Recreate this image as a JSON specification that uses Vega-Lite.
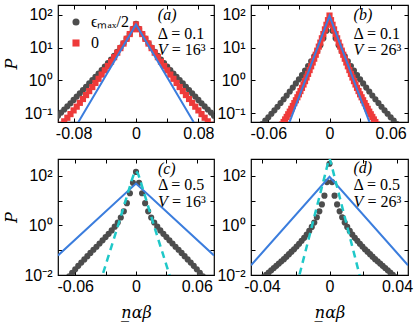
{
"$schema": "https://vega.github.io/schema/vega-lite/v6.json",
"padding": {"left": 3, "top": 3, "right": 2, "bottom": 2},
"columns": 2,
"spacing": {"row": 37, "column": 37},
"bounds": "flush",
"resolve": {"scale": {"color": "independent", "shape": "independent"}},
"config": {
 "view": {"stroke": "black", "strokeWidth": 1.2},
 "font": "Liberation Serif",
 "axis": {"grid": false, "domain": false, "tickColor": "black", "tickSize": -4, "tickWidth": 1, "labelFont": "Liberation Sans", "labelFontSize": 16, "labelColor": "black", "titleFont": "DejaVu Serif", "titleFontSize": 16, "titleFontStyle": "italic", "titleFontWeight": "normal", "titleColor": "black", "labelOverlap": false, "labelFlush": false},
 "axisX": {"labelPadding": 7},
 "axisY": {"labelPadding": 10}
},
"datasets": {
 "a_pts": [
  {"x":-0.1,"p":0.0851,"s":"g"},{"x":-0.096,"p":0.106,"s":"g"},{"x":-0.092,"p":0.132,"s":"g"},{"x":-0.088,"p":0.164,"s":"g"},{"x":-0.084,"p":0.204,"s":"g"},{"x":-0.08,"p":0.257,"s":"g"},{"x":-0.076,"p":0.324,"s":"g"},{"x":-0.072,"p":0.407,"s":"g"},{"x":-0.068,"p":0.513,"s":"g"},{"x":-0.064,"p":0.646,"s":"g"},{"x":-0.06,"p":0.813,"s":"g"},{"x":-0.056,"p":1.023,"s":"g"},{"x":-0.052,"p":1.29,"s":"g"},{"x":-0.048,"p":1.62,"s":"g"},{"x":-0.044,"p":2.07,"s":"g"},{"x":-0.04,"p":2.63,"s":"g"},{"x":-0.036,"p":3.35,"s":"g"},{"x":-0.032,"p":4.32,"s":"g"},{"x":-0.028,"p":5.62,"s":"g"},{"x":-0.024,"p":7.41,"s":"g"},{"x":-0.02,"p":9.89,"s":"g"},{"x":-0.016,"p":13.5,"s":"g"},{"x":-0.012,"p":18.6,"s":"g"},{"x":-0.008,"p":26.0,"s":"g"},{"x":-0.004,"p":36.7,"s":"g"},{"x":0,"p":52.5,"s":"g"},
  {"x":0.004,"p":36.7,"s":"g"},{"x":0.008,"p":26.0,"s":"g"},{"x":0.012,"p":18.6,"s":"g"},{"x":0.016,"p":13.5,"s":"g"},{"x":0.02,"p":9.89,"s":"g"},{"x":0.024,"p":7.41,"s":"g"},{"x":0.028,"p":5.62,"s":"g"},{"x":0.032,"p":4.32,"s":"g"},{"x":0.036,"p":3.35,"s":"g"},{"x":0.04,"p":2.63,"s":"g"},{"x":0.044,"p":2.07,"s":"g"},{"x":0.048,"p":1.62,"s":"g"},{"x":0.052,"p":1.29,"s":"g"},{"x":0.056,"p":1.023,"s":"g"},{"x":0.06,"p":0.813,"s":"g"},{"x":0.064,"p":0.646,"s":"g"},{"x":0.068,"p":0.513,"s":"g"},{"x":0.072,"p":0.407,"s":"g"},{"x":0.076,"p":0.324,"s":"g"},{"x":0.08,"p":0.257,"s":"g"},{"x":0.084,"p":0.204,"s":"g"},{"x":0.088,"p":0.164,"s":"g"},{"x":0.092,"p":0.132,"s":"g"},{"x":0.096,"p":0.106,"s":"g"},{"x":0.1,"p":0.0851,"s":"g"},
  {"x":-0.096,"p":0.0452,"s":"r"},{"x":-0.092,"p":0.0577,"s":"r"},{"x":-0.088,"p":0.0741,"s":"r"},{"x":-0.084,"p":0.0955,"s":"r"},{"x":-0.08,"p":0.1236,"s":"r"},{"x":-0.076,"p":0.1606,"s":"r"},{"x":-0.072,"p":0.2095,"s":"r"},{"x":-0.068,"p":0.274,"s":"r"},{"x":-0.064,"p":0.361,"s":"r"},{"x":-0.06,"p":0.476,"s":"r"},{"x":-0.056,"p":0.632,"s":"r"},{"x":-0.052,"p":0.841,"s":"r"},{"x":-0.048,"p":1.124,"s":"r"},{"x":-0.044,"p":1.51,"s":"r"},{"x":-0.04,"p":2.03,"s":"r"},{"x":-0.036,"p":2.75,"s":"r"},{"x":-0.032,"p":3.73,"s":"r"},{"x":-0.028,"p":5.09,"s":"r"},{"x":-0.024,"p":6.98,"s":"r"},{"x":-0.02,"p":9.59,"s":"r"},{"x":-0.016,"p":13.2,"s":"r"},{"x":-0.012,"p":18.4,"s":"r"},{"x":-0.008,"p":25.6,"s":"r"},{"x":-0.004,"p":35.7,"s":"r"},{"x":0,"p":50.1,"s":"r"},
  {"x":0.004,"p":35.7,"s":"r"},{"x":0.008,"p":25.6,"s":"r"},{"x":0.012,"p":18.4,"s":"r"},{"x":0.016,"p":13.2,"s":"r"},{"x":0.02,"p":9.59,"s":"r"},{"x":0.024,"p":6.98,"s":"r"},{"x":0.028,"p":5.09,"s":"r"},{"x":0.032,"p":3.73,"s":"r"},{"x":0.036,"p":2.75,"s":"r"},{"x":0.04,"p":2.03,"s":"r"},{"x":0.044,"p":1.51,"s":"r"},{"x":0.048,"p":1.124,"s":"r"},{"x":0.052,"p":0.841,"s":"r"},{"x":0.056,"p":0.632,"s":"r"},{"x":0.06,"p":0.476,"s":"r"},{"x":0.064,"p":0.361,"s":"r"},{"x":0.068,"p":0.274,"s":"r"},{"x":0.072,"p":0.2095,"s":"r"},{"x":0.076,"p":0.1606,"s":"r"},{"x":0.08,"p":0.1236,"s":"r"},{"x":0.084,"p":0.0955,"s":"r"},{"x":0.088,"p":0.0741,"s":"r"},{"x":0.092,"p":0.0577,"s":"r"},{"x":0.096,"p":0.0452,"s":"r"}
 ],
 "a_blue": [{"x":-0.1,"p":0.0049},{"x":0,"p":50.1},{"x":0.1,"p":0.0049}],
 "b_pts": [
  {"x":-0.066,"p":0.0479,"s":"g"},{"x":-0.063,"p":0.0603,"s":"g"},{"x":-0.06,"p":0.0767,"s":"g"},{"x":-0.057,"p":0.0977,"s":"g"},{"x":-0.054,"p":0.124,"s":"g"},{"x":-0.051,"p":0.16,"s":"g"},{"x":-0.048,"p":0.207,"s":"g"},{"x":-0.045,"p":0.269,"s":"g"},{"x":-0.042,"p":0.351,"s":"g"},{"x":-0.039,"p":0.462,"s":"g"},{"x":-0.036,"p":0.61,"s":"g"},{"x":-0.033,"p":0.813,"s":"g"},{"x":-0.03,"p":1.084,"s":"g"},{"x":-0.027,"p":1.46,"s":"g"},{"x":-0.024,"p":2.0,"s":"g"},{"x":-0.021,"p":2.75,"s":"g"},{"x":-0.018,"p":3.8,"s":"g"},{"x":-0.015,"p":5.37,"s":"g"},{"x":-0.012,"p":7.76,"s":"g"},{"x":-0.009,"p":11.7,"s":"g"},{"x":-0.006,"p":19.1,"s":"g"},{"x":-0.003,"p":32.4,"s":"g"},{"x":0,"p":57.5,"s":"g"},
  {"x":0.003,"p":32.4,"s":"g"},{"x":0.006,"p":19.1,"s":"g"},{"x":0.009,"p":11.7,"s":"g"},{"x":0.012,"p":7.76,"s":"g"},{"x":0.015,"p":5.37,"s":"g"},{"x":0.018,"p":3.8,"s":"g"},{"x":0.021,"p":2.75,"s":"g"},{"x":0.024,"p":2.0,"s":"g"},{"x":0.027,"p":1.46,"s":"g"},{"x":0.03,"p":1.084,"s":"g"},{"x":0.033,"p":0.813,"s":"g"},{"x":0.036,"p":0.61,"s":"g"},{"x":0.039,"p":0.462,"s":"g"},{"x":0.042,"p":0.351,"s":"g"},{"x":0.045,"p":0.269,"s":"g"},{"x":0.048,"p":0.207,"s":"g"},{"x":0.051,"p":0.16,"s":"g"},{"x":0.054,"p":0.124,"s":"g"},{"x":0.057,"p":0.0977,"s":"g"},{"x":0.06,"p":0.0767,"s":"g"},{"x":0.063,"p":0.0603,"s":"g"},{"x":0.066,"p":0.0479,"s":"g"},
  {"x":-0.0465,"p":0.0462,"s":"r"},{"x":-0.045,"p":0.055,"s":"r"},{"x":-0.0435,"p":0.0658,"s":"r"},{"x":-0.042,"p":0.0785,"s":"r"},{"x":-0.0405,"p":0.0944,"s":"r"},{"x":-0.039,"p":0.1135,"s":"r"},{"x":-0.0375,"p":0.138,"s":"r"},{"x":-0.036,"p":0.168,"s":"r"},{"x":-0.0345,"p":0.2056,"s":"r"},{"x":-0.033,"p":0.251,"s":"r"},{"x":-0.0315,"p":0.309,"s":"r"},{"x":-0.03,"p":0.38,"s":"r"},{"x":-0.0285,"p":0.476,"s":"r"},{"x":-0.027,"p":0.596,"s":"r"},{"x":-0.0255,"p":0.755,"s":"r"},{"x":-0.024,"p":0.955,"s":"r"},{"x":-0.0225,"p":1.23,"s":"r"},{"x":-0.021,"p":1.585,"s":"r"},{"x":-0.0195,"p":2.065,"s":"r"},{"x":-0.018,"p":2.69,"s":"r"},{"x":-0.0165,"p":3.51,"s":"r"},{"x":-0.015,"p":4.57,"s":"r"},{"x":-0.0135,"p":6.05,"s":"r"},{"x":-0.012,"p":8.04,"s":"r"},{"x":-0.0105,"p":10.64,"s":"r"},{"x":-0.009,"p":14.1,"s":"r"},{"x":-0.0075,"p":19.05,"s":"r"},{"x":-0.006,"p":25.7,"s":"r"},{"x":-0.0045,"p":35.5,"s":"r"},{"x":-0.003,"p":49.0,"s":"r"},{"x":-0.0015,"p":67.6,"s":"r"},{"x":0,"p":93.3,"s":"r"},
  {"x":0.0015,"p":67.6,"s":"r"},{"x":0.003,"p":49.0,"s":"r"},{"x":0.0045,"p":35.5,"s":"r"},{"x":0.006,"p":25.7,"s":"r"},{"x":0.0075,"p":19.05,"s":"r"},{"x":0.009,"p":14.1,"s":"r"},{"x":0.0105,"p":10.64,"s":"r"},{"x":0.012,"p":8.04,"s":"r"},{"x":0.0135,"p":6.05,"s":"r"},{"x":0.015,"p":4.57,"s":"r"},{"x":0.0165,"p":3.51,"s":"r"},{"x":0.018,"p":2.69,"s":"r"},{"x":0.0195,"p":2.065,"s":"r"},{"x":0.021,"p":1.585,"s":"r"},{"x":0.0225,"p":1.23,"s":"r"},{"x":0.024,"p":0.955,"s":"r"},{"x":0.0255,"p":0.755,"s":"r"},{"x":0.027,"p":0.596,"s":"r"},{"x":0.0285,"p":0.476,"s":"r"},{"x":0.03,"p":0.38,"s":"r"},{"x":0.0315,"p":0.309,"s":"r"},{"x":0.033,"p":0.251,"s":"r"},{"x":0.0345,"p":0.2056,"s":"r"},{"x":0.036,"p":0.168,"s":"r"},{"x":0.0375,"p":0.138,"s":"r"},{"x":0.039,"p":0.1135,"s":"r"},{"x":0.0405,"p":0.0944,"s":"r"},{"x":0.042,"p":0.0785,"s":"r"},{"x":0.0435,"p":0.0658,"s":"r"},{"x":0.045,"p":0.055,"s":"r"},{"x":0.0465,"p":0.0462,"s":"r"}
 ],
 "b_blue": [{"x":-0.077,"p":0.000042},{"x":0,"p":91.2},{"x":0.077,"p":0.000042}],
 "c_pts": [
  {"x":-0.066,"p":0.0089},{"x":-0.063,"p":0.0123},{"x":-0.06,"p":0.017},{"x":-0.057,"p":0.0234},{"x":-0.054,"p":0.0316},{"x":-0.051,"p":0.0427},{"x":-0.048,"p":0.0575},{"x":-0.045,"p":0.0776},{"x":-0.042,"p":0.1047},{"x":-0.039,"p":0.138},{"x":-0.036,"p":0.186},{"x":-0.033,"p":0.251},{"x":-0.03,"p":0.339},{"x":-0.027,"p":0.457},{"x":-0.024,"p":0.631},{"x":-0.021,"p":0.891},{"x":-0.018,"p":1.318},{"x":-0.015,"p":2.09},{"x":-0.012,"p":3.72},{"x":-0.009,"p":7.94},{"x":-0.006,"p":19.95},{"x":-0.003,"p":52.5},{"x":0,"p":144.5},
  {"x":0.003,"p":52.5},{"x":0.006,"p":19.95},{"x":0.009,"p":7.94},{"x":0.012,"p":3.72},{"x":0.015,"p":2.09},{"x":0.018,"p":1.318},{"x":0.021,"p":0.891},{"x":0.024,"p":0.631},{"x":0.027,"p":0.457},{"x":0.03,"p":0.339},{"x":0.033,"p":0.251},{"x":0.036,"p":0.186},{"x":0.039,"p":0.138},{"x":0.042,"p":0.1047},{"x":0.045,"p":0.0776},{"x":0.048,"p":0.0575},{"x":0.051,"p":0.0427},{"x":0.054,"p":0.0316},{"x":0.057,"p":0.0234},{"x":0.06,"p":0.017},{"x":0.063,"p":0.0123},{"x":0.066,"p":0.0089}
 ],
 "c_blue": [{"x":-0.077,"p":0.0617},{"x":0,"p":49},{"x":0.077,"p":0.0617}],
 "c_gauss": [
  {"x":-0.036,"p":0.00417},{"x":-0.034,"p":0.00759},{"x":-0.032,"p":0.0138},{"x":-0.03,"p":0.0251},{"x":-0.028,"p":0.0457},{"x":-0.026,"p":0.0832},{"x":-0.024,"p":0.151},{"x":-0.022,"p":0.275},{"x":-0.02,"p":0.501},{"x":-0.018,"p":0.912},{"x":-0.016,"p":1.7},{"x":-0.014,"p":3.16},{"x":-0.012,"p":5.89},{"x":-0.01,"p":10.96},{"x":-0.008,"p":20.4},{"x":-0.006,"p":38.0},{"x":-0.004,"p":70.8},{"x":-0.002,"p":120.2},{"x":0,"p":158.5},
  {"x":0.002,"p":120.2},{"x":0.004,"p":70.8},{"x":0.006,"p":38.0},{"x":0.008,"p":20.4},{"x":0.01,"p":10.96},{"x":0.012,"p":5.89},{"x":0.014,"p":3.16},{"x":0.016,"p":1.7},{"x":0.018,"p":0.912},{"x":0.02,"p":0.501},{"x":0.022,"p":0.275},{"x":0.024,"p":0.151},{"x":0.026,"p":0.0832},{"x":0.028,"p":0.0457},{"x":0.03,"p":0.0251},{"x":0.032,"p":0.0138},{"x":0.034,"p":0.00759},{"x":0.036,"p":0.00417}
 ],
 "d_pts": [
  {"x":-0.039,"p":0.0083},{"x":-0.0375,"p":0.0102},{"x":-0.036,"p":0.0126},{"x":-0.0345,"p":0.0155},{"x":-0.033,"p":0.0191},{"x":-0.0315,"p":0.0234},{"x":-0.03,"p":0.0288},{"x":-0.0285,"p":0.0355},{"x":-0.027,"p":0.0437},{"x":-0.0255,"p":0.055},{"x":-0.024,"p":0.0692},{"x":-0.0225,"p":0.0871},{"x":-0.021,"p":0.1096},{"x":-0.0195,"p":0.141},{"x":-0.018,"p":0.182},{"x":-0.0165,"p":0.24},{"x":-0.015,"p":0.316},{"x":-0.0135,"p":0.427},{"x":-0.012,"p":0.603},{"x":-0.0105,"p":0.871},{"x":-0.009,"p":1.318},{"x":-0.0075,"p":2.14},{"x":-0.006,"p":3.72},{"x":-0.0045,"p":7.08},{"x":-0.003,"p":15.85},{"x":-0.0015,"p":56.2},{"x":0,"p":309},
  {"x":0.0015,"p":56.2},{"x":0.003,"p":15.85},{"x":0.0045,"p":7.08},{"x":0.006,"p":3.72},{"x":0.0075,"p":2.14},{"x":0.009,"p":1.318},{"x":0.0105,"p":0.871},{"x":0.012,"p":0.603},{"x":0.0135,"p":0.427},{"x":0.015,"p":0.316},{"x":0.0165,"p":0.24},{"x":0.018,"p":0.182},{"x":0.0195,"p":0.141},{"x":0.021,"p":0.1096},{"x":0.0225,"p":0.0871},{"x":0.024,"p":0.0692},{"x":0.0255,"p":0.055},{"x":0.027,"p":0.0437},{"x":0.0285,"p":0.0355},{"x":0.03,"p":0.0288},{"x":0.0315,"p":0.0234},{"x":0.033,"p":0.0191},{"x":0.0345,"p":0.0155},{"x":0.036,"p":0.0126},{"x":0.0375,"p":0.0102},{"x":0.039,"p":0.0083}
 ],
 "d_blue": [{"x":-0.0465,"p":0.0245},{"x":0,"p":91.2},{"x":0.0465,"p":0.0245}],
 "d_gauss": [
  {"x":-0.0195,"p":0.00355},{"x":-0.018,"p":0.00891},{"x":-0.0165,"p":0.0224},{"x":-0.015,"p":0.0562},{"x":-0.0135,"p":0.141},{"x":-0.012,"p":0.355},{"x":-0.0105,"p":0.891},{"x":-0.009,"p":2.24},{"x":-0.0075,"p":5.62},{"x":-0.006,"p":14.1},{"x":-0.0045,"p":35.5},{"x":-0.003,"p":89.1},{"x":-0.0015,"p":229},{"x":0,"p":525},
  {"x":0.0015,"p":229},{"x":0.003,"p":89.1},{"x":0.0045,"p":35.5},{"x":0.006,"p":14.1},{"x":0.0075,"p":5.62},{"x":0.009,"p":2.24},{"x":0.0105,"p":0.891},{"x":0.012,"p":0.355},{"x":0.0135,"p":0.141},{"x":0.015,"p":0.0562},{"x":0.0165,"p":0.0224},{"x":0.018,"p":0.00891},{"x":0.0195,"p":0.00355}
 ]
},
"concat": [
 {
  "width": 156, "height": 117,
  "resolve": {"axis": {"x": "independent", "y": "independent"}},
  "layer": [
   {"data": {"name": "a_pts"},
    "mark": {"type": "point", "filled": true, "opacity": 1, "size": 38, "clip": true},
    "encoding": {
     "x": {"field": "x", "type": "quantitative", "scale": {"domain": [-0.1, 0.1], "nice": false, "zero": false},
           "axis": {"orient": "bottom", "title": null, "values": [-0.08, -0.04, 0, 0.04, 0.08], "labelExpr": "datum.value < -0.07 ? '-0.08' : datum.value > 0.07 ? '0.08' : abs(datum.value) < 0.001 ? '0' : ''"}},
     "y": {"field": "p", "type": "quantitative", "scale": {"type": "log", "domain": [0.055, 195], "nice": false},
           "axis": {"orient": "left", "title": "P", "titlePadding": 4, "values": [0.1, 1, 10, 100], "labelExpr": "datum.value > 50 ? '10²' : datum.value > 5 ? '10¹' : datum.value > 0.5 ? '10⁰' : '10⁻¹'"}},
     "color": {"field": "s", "type": "nominal", "scale": {"domain": ["g", "r"], "range": ["#4d4d4d", "#ee3a3a"]},
               "legend": {"orient": "none", "legendX": 10, "legendY": 9, "title": null, "padding": 0, "rowPadding": 5, "labelOffset": 7, "labelFont": "Liberation Serif", "labelFontSize": 16, "labelColor": "black", "symbolSize": 50, "symbolStrokeWidth": 0, "labelExpr": "datum.value == 'g' ? 'ϵₘₐₓ/2' : '0'"}},
     "shape": {"field": "s", "type": "nominal", "scale": {"domain": ["g", "r"], "range": ["circle", "square"]},
               "legend": {"orient": "none", "legendX": 10, "legendY": 9, "title": null, "padding": 0, "rowPadding": 5, "labelOffset": 7, "labelFont": "Liberation Serif", "labelFontSize": 16, "labelColor": "black", "symbolSize": 50, "symbolStrokeWidth": 0, "labelExpr": "datum.value == 'g' ? 'ϵₘₐₓ/2' : '0'"}}
    }},
   {"data": {"name": "a_blue"},
    "mark": {"type": "line", "color": "#3b7ddd", "strokeWidth": 2, "clip": true},
    "encoding": {
     "x": {"field": "x", "type": "quantitative", "axis": {"orient": "top", "labels": false, "title": null, "values": [-0.08, -0.04, 0, 0.04, 0.08]}},
     "y": {"field": "p", "type": "quantitative", "axis": {"orient": "right", "labels": false, "title": null, "values": [0.1, 1, 10, 100]}}
    }},
   {"data": {"values": [{}]}, "mark": {"type": "text", "text": "(a)", "font": "Liberation Serif", "fontStyle": "italic", "fontSize": 16, "align": "left", "baseline": "middle"},
    "encoding": {"x": {"datum": 0.028, "type": "quantitative", "axis": null}, "y": {"datum": 98, "type": "quantitative", "axis": null}}},
   {"data": {"values": [{}]}, "mark": {"type": "text", "text": "Δ = 0.1", "font": "Liberation Serif", "fontSize": 16, "align": "left", "baseline": "middle"},
    "encoding": {"x": {"datum": 0.028, "type": "quantitative", "axis": null}, "y": {"datum": 26, "type": "quantitative", "axis": null}}},
   {"data": {"values": [{}]}, "mark": {"type": "text", "text": "V", "font": "Liberation Serif", "fontStyle": "italic", "fontSize": 16, "align": "left", "baseline": "middle"},
    "encoding": {"x": {"datum": 0.028, "type": "quantitative", "axis": null}, "y": {"datum": 8.5, "type": "quantitative", "axis": null}}},
   {"data": {"values": [{}]}, "mark": {"type": "text", "text": "= 16³", "font": "Liberation Serif", "fontSize": 16, "align": "left", "baseline": "middle", "dx": 14},
    "encoding": {"x": {"datum": 0.028, "type": "quantitative", "axis": null}, "y": {"datum": 8.5, "type": "quantitative", "axis": null}}}
  ]
 },
 {
  "width": 157, "height": 117,
  "resolve": {"axis": {"x": "independent", "y": "independent"}},
  "layer": [
   {"data": {"name": "b_pts"},
    "mark": {"type": "point", "filled": true, "opacity": 1, "size": 38, "clip": true},
    "encoding": {
     "x": {"field": "x", "type": "quantitative", "scale": {"domain": [-0.077, 0.077], "nice": false, "zero": false},
           "axis": {"orient": "bottom", "title": null, "values": [-0.06, -0.03, 0, 0.03, 0.06], "labelExpr": "datum.value < -0.05 ? '-0.06' : datum.value > 0.05 ? '0.06' : abs(datum.value) < 0.001 ? '0' : ''"}},
     "y": {"field": "p", "type": "quantitative", "scale": {"type": "log", "domain": [0.055, 195], "nice": false},
           "axis": {"orient": "left", "title": null, "values": [0.1, 1, 10, 100], "labelExpr": "datum.value > 50 ? '10²' : datum.value > 5 ? '10¹' : datum.value > 0.5 ? '10⁰' : '10⁻¹'"}},
     "color": {"field": "s", "type": "nominal", "scale": {"domain": ["g", "r"], "range": ["#4d4d4d", "#ee3a3a"]}, "legend": null},
     "shape": {"field": "s", "type": "nominal", "scale": {"domain": ["g", "r"], "range": ["circle", "square"]}, "legend": null}
    }},
   {"data": {"name": "b_blue"},
    "mark": {"type": "line", "color": "#3b7ddd", "strokeWidth": 2, "clip": true},
    "encoding": {
     "x": {"field": "x", "type": "quantitative", "axis": {"orient": "top", "labels": false, "title": null, "values": [-0.06, -0.03, 0, 0.03, 0.06]}},
     "y": {"field": "p", "type": "quantitative", "axis": {"orient": "right", "labels": false, "title": null, "values": [0.1, 1, 10, 100]}}
    }},
   {"data": {"values": [{}]}, "mark": {"type": "text", "text": "(b)", "font": "Liberation Serif", "fontStyle": "italic", "fontSize": 16, "align": "left", "baseline": "middle"},
    "encoding": {"x": {"datum": 0.0236, "type": "quantitative", "axis": null}, "y": {"datum": 98, "type": "quantitative", "axis": null}}},
   {"data": {"values": [{}]}, "mark": {"type": "text", "text": "Δ = 0.1", "font": "Liberation Serif", "fontSize": 16, "align": "left", "baseline": "middle"},
    "encoding": {"x": {"datum": 0.0236, "type": "quantitative", "axis": null}, "y": {"datum": 26, "type": "quantitative", "axis": null}}},
   {"data": {"values": [{}]}, "mark": {"type": "text", "text": "V", "font": "Liberation Serif", "fontStyle": "italic", "fontSize": 16, "align": "left", "baseline": "middle"},
    "encoding": {"x": {"datum": 0.0236, "type": "quantitative", "axis": null}, "y": {"datum": 8.5, "type": "quantitative", "axis": null}}},
   {"data": {"values": [{}]}, "mark": {"type": "text", "text": "= 26³", "font": "Liberation Serif", "fontSize": 16, "align": "left", "baseline": "middle", "dx": 14},
    "encoding": {"x": {"datum": 0.0236, "type": "quantitative", "axis": null}, "y": {"datum": 8.5, "type": "quantitative", "axis": null}}}
  ]
 },
 {
  "width": 156, "height": 116,
  "resolve": {"axis": {"x": "independent", "y": "independent"}},
  "layer": [
   {"data": {"name": "c_pts"},
    "mark": {"type": "point", "filled": true, "opacity": 1, "size": 38, "clip": true, "color": "#4d4d4d"},
    "encoding": {
     "x": {"field": "x", "type": "quantitative", "scale": {"domain": [-0.077, 0.077], "nice": false, "zero": false},
           "axis": {"orient": "bottom", "title": "n̲αβ", "titlePadding": 10, "values": [-0.06, -0.03, 0, 0.03, 0.06], "labelExpr": "datum.value < -0.05 ? '-0.06' : datum.value > 0.05 ? '0.06' : abs(datum.value) < 0.001 ? '0' : ''"}},
     "y": {"field": "p", "type": "quantitative", "scale": {"type": "log", "domain": [0.01, 480], "nice": false},
           "axis": {"orient": "left", "title": "P", "titlePadding": 4, "values": [0.01, 0.1, 1, 10, 100], "labelExpr": "datum.value > 50 ? '10²' : (datum.value > 0.5 && datum.value < 5) ? '10⁰' : datum.value < 0.05 ? '10⁻²' : ''"}}
    }},
   {"data": {"name": "c_blue"},
    "mark": {"type": "line", "color": "#3b7ddd", "strokeWidth": 2, "clip": true},
    "encoding": {
     "x": {"field": "x", "type": "quantitative", "axis": {"orient": "top", "labels": false, "title": null, "values": [-0.06, -0.03, 0, 0.03, 0.06]}},
     "y": {"field": "p", "type": "quantitative", "axis": {"orient": "right", "labels": false, "title": null, "values": [0.01, 0.1, 1, 10, 100]}}
    }},
   {"data": {"name": "c_gauss"},
    "mark": {"type": "line", "color": "#1fc8c8", "strokeWidth": 2.5, "strokeDash": [7, 5], "clip": true},
    "encoding": {
     "x": {"field": "x", "type": "quantitative", "axis": null},
     "y": {"field": "p", "type": "quantitative", "axis": null}
    }},
   {"data": {"values": [{}]}, "mark": {"type": "text", "text": "(c)", "font": "Liberation Serif", "fontStyle": "italic", "fontSize": 16, "align": "left", "baseline": "middle"},
    "encoding": {"x": {"datum": 0.0216, "type": "quantitative", "axis": null}, "y": {"datum": 196, "type": "quantitative", "axis": null}}},
   {"data": {"values": [{}]}, "mark": {"type": "text", "text": "Δ = 0.5", "font": "Liberation Serif", "fontSize": 16, "align": "left", "baseline": "middle"},
    "encoding": {"x": {"datum": 0.0216, "type": "quantitative", "axis": null}, "y": {"datum": 42.4, "type": "quantitative", "axis": null}}},
   {"data": {"values": [{}]}, "mark": {"type": "text", "text": "V", "font": "Liberation Serif", "fontStyle": "italic", "fontSize": 16, "align": "left", "baseline": "middle"},
    "encoding": {"x": {"datum": 0.0216, "type": "quantitative", "axis": null}, "y": {"datum": 9.1, "type": "quantitative", "axis": null}}},
   {"data": {"values": [{}]}, "mark": {"type": "text", "text": "= 16³", "font": "Liberation Serif", "fontSize": 16, "align": "left", "baseline": "middle", "dx": 14},
    "encoding": {"x": {"datum": 0.0216, "type": "quantitative", "axis": null}, "y": {"datum": 9.1, "type": "quantitative", "axis": null}}}
  ]
 },
 {
  "width": 157, "height": 116,
  "resolve": {"axis": {"x": "independent", "y": "independent"}},
  "layer": [
   {"data": {"name": "d_pts"},
    "mark": {"type": "point", "filled": true, "opacity": 1, "size": 38, "clip": true, "color": "#4d4d4d"},
    "encoding": {
     "x": {"field": "x", "type": "quantitative", "scale": {"domain": [-0.0465, 0.0465], "nice": false, "zero": false},
           "axis": {"orient": "bottom", "title": "n̲αβ", "titlePadding": 10, "values": [-0.04, -0.02, 0, 0.02, 0.04], "labelExpr": "datum.value < -0.03 ? '-0.04' : datum.value > 0.03 ? '0.04' : abs(datum.value) < 0.001 ? '0' : ''"}},
     "y": {"field": "p", "type": "quantitative", "scale": {"type": "log", "domain": [0.01, 480], "nice": false},
           "axis": {"orient": "left", "title": null, "values": [0.01, 0.1, 1, 10, 100], "labelExpr": "datum.value > 50 ? '10²' : (datum.value > 0.5 && datum.value < 5) ? '10⁰' : datum.value < 0.05 ? '10⁻²' : ''"}}
    }},
   {"data": {"name": "d_blue"},
    "mark": {"type": "line", "color": "#3b7ddd", "strokeWidth": 2, "clip": true},
    "encoding": {
     "x": {"field": "x", "type": "quantitative", "axis": {"orient": "top", "labels": false, "title": null, "values": [-0.04, -0.02, 0, 0.02, 0.04]}},
     "y": {"field": "p", "type": "quantitative", "axis": {"orient": "right", "labels": false, "title": null, "values": [0.01, 0.1, 1, 10, 100]}}
    }},
   {"data": {"name": "d_gauss"},
    "mark": {"type": "line", "color": "#1fc8c8", "strokeWidth": 2.5, "strokeDash": [7, 5], "clip": true},
    "encoding": {
     "x": {"field": "x", "type": "quantitative", "axis": null},
     "y": {"field": "p", "type": "quantitative", "axis": null}
    }},
   {"data": {"values": [{}]}, "mark": {"type": "text", "text": "(d)", "font": "Liberation Serif", "fontStyle": "italic", "fontSize": 16, "align": "left", "baseline": "middle"},
    "encoding": {"x": {"datum": 0.0142, "type": "quantitative", "axis": null}, "y": {"datum": 214, "type": "quantitative", "axis": null}}},
   {"data": {"values": [{}]}, "mark": {"type": "text", "text": "Δ = 0.5", "font": "Liberation Serif", "fontSize": 16, "align": "left", "baseline": "middle"},
    "encoding": {"x": {"datum": 0.0142, "type": "quantitative", "axis": null}, "y": {"datum": 41.7, "type": "quantitative", "axis": null}}},
   {"data": {"values": [{}]}, "mark": {"type": "text", "text": "V", "font": "Liberation Serif", "fontStyle": "italic", "fontSize": 16, "align": "left", "baseline": "middle"},
    "encoding": {"x": {"datum": 0.0142, "type": "quantitative", "axis": null}, "y": {"datum": 8.5, "type": "quantitative", "axis": null}}},
   {"data": {"values": [{}]}, "mark": {"type": "text", "text": "= 26³", "font": "Liberation Serif", "fontSize": 16, "align": "left", "baseline": "middle", "dx": 14},
    "encoding": {"x": {"datum": 0.0142, "type": "quantitative", "axis": null}, "y": {"datum": 8.5, "type": "quantitative", "axis": null}}}
  ]
 }
]
}
